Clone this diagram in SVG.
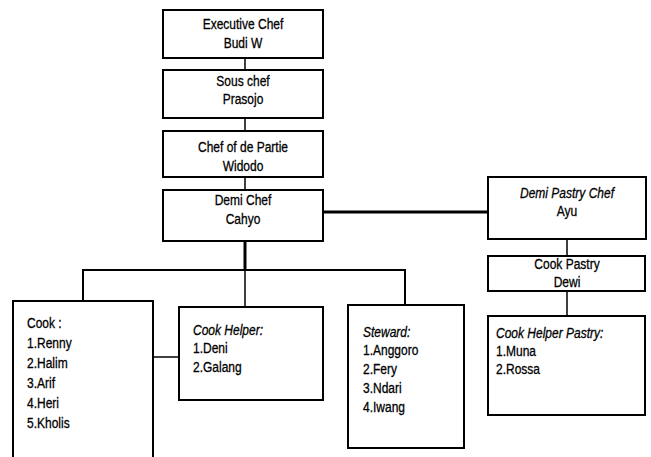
<svg xmlns="http://www.w3.org/2000/svg" width="651" height="457" viewBox="0 0 651 457">
<style>
.box{fill:#fff;stroke:#000;stroke-width:2}
.c{stroke:#000;fill:none}
text{font-family:"Liberation Sans",Arial,sans-serif;font-size:15px;fill:#000;stroke:#000;stroke-width:0.3}
.m{text-anchor:middle}
.i{font-style:italic}
</style>
<rect width="651" height="457" fill="#fff"/>
<g id="connectors">
<line class="c" x1="245" y1="58" x2="245" y2="70" stroke-width="1.5"/>
<line class="c" x1="245" y1="118" x2="245" y2="131" stroke-width="1.5"/>
<line class="c" x1="245" y1="177" x2="245" y2="190" stroke-width="1.5"/>
<line class="c" x1="323" y1="212" x2="488" y2="212" stroke-width="3"/>
<line class="c" x1="245" y1="241" x2="245" y2="270" stroke-width="3"/>
<line class="c" x1="82" y1="270" x2="406" y2="270" stroke-width="2"/>
<line class="c" x1="83" y1="270" x2="83" y2="301" stroke-width="2"/>
<line class="c" x1="245" y1="270" x2="245" y2="307" stroke-width="1.5"/>
<line class="c" x1="405" y1="270" x2="405" y2="305" stroke-width="2"/>
<line class="c" x1="153" y1="357" x2="179" y2="357" stroke-width="1.5"/>
<line class="c" x1="567" y1="239" x2="567" y2="256" stroke-width="1.5"/>
<line class="c" x1="567" y1="291" x2="567" y2="316" stroke-width="1.5"/>
</g>
<g id="executive-chef">
<rect class="box" x="163" y="10" width="160" height="48"/>
<g transform="scale(0.8,1)">
<text class="m" x="303.75" y="29">Executive Chef</text>
<text class="m" x="303.75" y="48">Budi W</text>
</g>
</g>
<g id="sous-chef">
<rect class="box" x="163" y="70" width="160" height="48"/>
<g transform="scale(0.8,1)">
<text class="m" x="303.75" y="86">Sous chef</text>
<text class="m" x="303.75" y="104">Prasojo</text>
</g>
</g>
<g id="chef-de-partie">
<rect class="box" x="163" y="131" width="160" height="46"/>
<g transform="scale(0.8,1)">
<text class="m" x="303.75" y="152">Chef of de Partie</text>
<text class="m" x="303.75" y="171">Widodo</text>
</g>
</g>
<g id="demi-chef">
<rect class="box" x="163" y="190" width="160" height="51"/>
<g transform="scale(0.8,1)">
<text class="m" x="303.75" y="205">Demi Chef</text>
<text class="m" x="303.75" y="224">Cahyo</text>
</g>
</g>
<g id="demi-pastry-chef">
<rect class="box" x="488" y="177" width="158" height="62"/>
<g transform="scale(0.8,1)">
<text class="m i" x="708.75" y="198">Demi Pastry Chef</text>
<text class="m" x="708.75" y="216">Ayu</text>
</g>
</g>
<g id="cook-pastry">
<rect class="box" x="488" y="256" width="157" height="35"/>
<g transform="scale(0.8,1)">
<text class="m" x="708.75" y="269">Cook Pastry</text>
<text class="m" x="708.75" y="287">Dewi</text>
</g>
</g>
<g id="cook-helper-pastry">
<rect class="box" x="488" y="316" width="157" height="99"/>
<g transform="scale(0.8,1)">
<text class="i" x="620" y="338">Cook Helper Pastry:</text>
<text x="620" y="356">1.Muna</text>
<text x="620" y="374">2.Rossa</text>
</g>
</g>
<g id="cook">
<path class="c" d="M13,460 V301 H153 V460" stroke-width="2" fill="#fff"/>
<g transform="scale(0.8,1)">
<text x="33.75" y="328">Cook :</text>
<text x="33.75" y="348">1.Renny</text>
<text x="33.75" y="368">2.Halim</text>
<text x="33.75" y="388">3.Arif</text>
<text x="33.75" y="408">4.Heri</text>
<text x="33.75" y="428">5.Kholis</text>
</g>
</g>
<g id="cook-helper">
<rect class="box" x="179" y="307" width="144" height="93"/>
<g transform="scale(0.8,1)">
<text class="i" x="241.25" y="335">Cook Helper:</text>
<text x="241.25" y="353">1.Deni</text>
<text x="241.25" y="372">2.Galang</text>
</g>
</g>
<g id="steward">
<rect class="box" x="348" y="305" width="116" height="143"/>
<g transform="scale(0.8,1)">
<text class="i" x="453.75" y="337">Steward:</text>
<text x="453.75" y="355">1.Anggoro</text>
<text x="453.75" y="374">2.Fery</text>
<text x="453.75" y="393">3.Ndari</text>
<text x="453.75" y="412">4.Iwang</text>
</g>
</g>
</svg>
